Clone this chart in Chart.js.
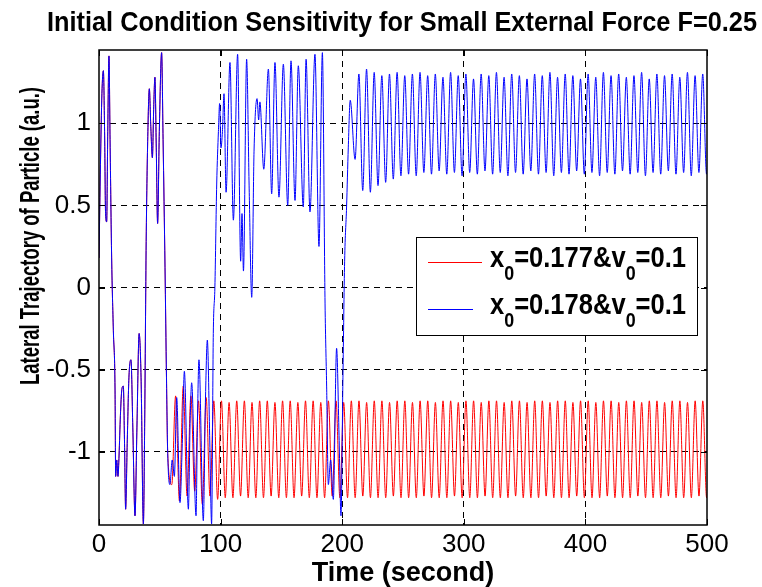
<!DOCTYPE html>
<html><head><meta charset="utf-8">
<script src="https://cdn.jsdelivr.net/npm/chart.js@4.4.0/dist/chart.umd.min.js"></script>
<style>html,body{margin:0;padding:0;background:#fff;}#wrap{width:762px;height:587px;position:relative;}</style>
</head><body><div id="wrap"><canvas id="c" width="762" height="587"></canvas></div>
<script>
const chartTitle = 'Initial Condition Sensitivity for Small External Force F=0.25';
const xAxisTitle = 'Time (second)';
const yAxisTitle = 'Lateral Trajectory of Particle (a.u.)';
const xTicks = [0, 100, 200, 300, 400, 500];
const yTicks = [-1, -0.5, 0, 0.5, 1];
const seriesLabels = ['x₀=0.177&v₀=0.1', 'x₀=0.178&v₀=0.1'];

// shared transient (both initial conditions coincide)
const commonT = [0, 1.2, 2.4, 3.6, 4.6, 5.4, 6.3, 7.2, 8.2, 9.1, 10.4, 11.8, 13.2, 13.7, 14.6, 15.6, 16.5, 17.6, 18.8, 20.0, 21.0, 21.9, 23.2, 24.6, 26.3, 27.8, 29.6, 31.2, 33.0, 34.6, 36.5, 37.6, 38.8, 40.2, 41.4, 42.6, 43.9, 45.0, 46.0, 47.1, 48.2, 49.6, 51.5, 52.7, 54.3, 55.5, 56.5];
const commonX = [0.18, 0.75, 1.18, 1.32, 0.95, 0.45, 0.40, 0.95, 1.41, 0.90, 0.18, -0.26, -0.63, -1.15, -1.05, -1.15, -1.02, -0.78, -0.62, -0.60, -0.95, -1.35, -0.95, -0.55, -0.44, -0.85, -1.39, -0.85, -0.28, -0.55, -1.44, -0.80, 0.28, 0.95, 1.21, 0.98, 0.79, 1.10, 1.28, 0.85, 0.39, 0.95, 1.43, 0.90, 0.12, -0.55, -1.01];

// sampling step of the extrema lists (half of the forcing period)
const halfPeriod = 3.1416;

// x0=0.177: settles on the lower well
const redTailStart = 59.86;
const redTail = [-1.20, -0.66, -1.30, -0.60, -1.27, -0.66, -1.24, -0.69, -1.32, -0.67, -1.27, -0.69, -1.29,
 -0.69, -1.28, -0.70, -1.28, -0.69, -1.27, -0.69, -1.28, -0.70, -1.28,
 -0.69, -1.28, -0.69, -1.27, -0.70, -1.28, -0.69, -1.28, -0.69, -1.28,
 -0.70, -1.27, -0.69, -1.28, -0.69, -1.28, -0.70, -1.28, -0.69, -1.27,
 -0.69, -1.28, -0.70, -1.28, -0.69, -1.28, -0.69, -1.27, -0.70, -1.28,
 -0.69, -1.28, -0.69, -1.28, -0.70, -1.27, -0.69, -1.28, -0.69, -1.28,
 -0.70, -1.28, -0.69, -1.27, -0.69, -1.28, -0.70, -1.28, -0.69, -1.28,
 -0.69, -1.27, -0.70, -1.28, -0.69, -1.28, -0.69, -1.28, -0.70, -1.27,
 -0.69, -1.28, -0.69, -1.28, -0.70, -1.28, -0.69, -1.27, -0.69, -1.28,
 -0.70, -1.28, -0.69, -1.28, -0.69, -1.27, -0.70, -1.28, -0.69, -1.28,
 -0.69, -1.28, -0.70, -1.27, -0.69, -1.28, -0.69, -1.28, -0.70, -1.28,
 -0.69, -1.27, -0.69, -1.28, -0.70, -1.28, -0.69, -1.28, -0.69, -1.27,
 -0.70, -1.28, -0.69, -1.28, -0.69, -1.28, -0.70, -1.27, -0.69, -1.28,
 -0.69, -1.28, -0.70, -1.28, -0.69, -1.27, -0.69, -1.28, -0.70];

// x0=0.178: lower-well wandering, jump to upper well, chaotic, then upper well
const blueMidT = [58.3, 60.2, 62.0, 63.9, 66.6, 68.5, 70.2, 73.5, 75.0, 76.2, 79.8, 81.0, 82.2, 85.8, 87.5, 89.1, 91.0, 92.6, 94.0];
const blueMidX = [-1.20, -1.05, -1.15, -0.67, -1.31, -0.95, -0.51, -1.35, -0.80, -0.58, -1.39, -0.80, -0.44, -1.42, -0.70, -0.32, -0.90, -1.44, -0.28];
const blueChaosT = [95.3, 96.8, 98.2, 99.2, 100.3, 101.5, 102.8, 104.5, 107.7, 110.5, 114.0, 116.5, 117.6, 118.8, 121.4, 123.5, 125.6, 127.5, 130.0, 131.3, 132.3, 135.5, 139.3, 142.0, 144.7, 148.0, 151.6, 155.2, 157.9, 161.2, 163.9, 168.0, 170.3, 173.5, 177.6, 180.9, 183.7, 185.9, 187.2, 188.6, 190.5, 192.7, 195.4, 197.4, 199.0, 200.6, 202.0, 203.6, 205.0, 206.6];
const blueChaosX = [0.00, 0.63, 0.95, 1.12, 0.85, 0.95, 1.18, 0.58, 1.37, 0.41, 1.42, 0.16, 0.45, 0.10, 1.39, 0.60, -0.06, 0.83, 1.15, 1.02, 1.13, 0.72, 1.33, 0.57, 1.37, 0.55, 1.36, 0.50, 1.38, 0.53, 1.35, 0.49, 1.39, 0.46, 1.42, 0.25, 1.43, -0.10, -0.60, -1.20, -1.05, -1.29, -0.37, -0.90, -1.39, -0.55, 0.16, 0.49, 0.85, 1.14];
const blueTailStart = 210.6;
const blueTail = [0.78, 1.30, 0.59, 1.33, 0.58, 1.31, 0.62, 1.29, 0.64, 1.30,
 0.66, 1.31, 0.68, 1.29, 0.69, 1.30, 0.68, 1.31, 0.70, 1.29,
 0.69, 1.30, 0.71, 1.28, 0.69, 1.31, 0.70, 1.29, 0.68, 1.30,
 0.70, 1.27, 0.69, 1.30, 0.71, 1.29, 0.69, 1.31, 0.70, 1.28,
 0.68, 1.30, 0.70, 1.29, 0.69, 1.27, 0.71, 1.30, 0.69, 1.29,
 0.70, 1.31, 0.68, 1.28, 0.70, 1.30, 0.69, 1.29, 0.71, 1.27,
 0.69, 1.30, 0.70, 1.28, 0.68, 1.31, 0.70, 1.29, 0.69, 1.30,
 0.71, 1.28, 0.69, 1.29, 0.70, 1.31, 0.68, 1.27, 0.70, 1.30,
 0.69, 1.29, 0.71, 1.30, 0.69, 1.28, 0.70, 1.31, 0.68, 1.29,
 0.70, 1.30, 0.69, 1.28];

const FONT = "'Liberation Sans', Arial, Helvetica, sans-serif";

const redPts = [], bluePts = [];
commonT.forEach((t, i) => { redPts.push({x: t, y: commonX[i]}); bluePts.push({x: t, y: commonX[i]}); });
redTail.forEach((v, i) => redPts.push({x: redTailStart + i * halfPeriod, y: v}));
blueMidT.forEach((t, i) => bluePts.push({x: t, y: blueMidX[i]}));
blueChaosT.forEach((t, i) => bluePts.push({x: t, y: blueChaosX[i]}));
blueTail.forEach((v, i) => bluePts.push({x: blueTailStart + i * halfPeriod, y: v}));

const frame = {
  id: 'frame',
  afterDatasetsDraw(chart) {
    const {ctx, chartArea: {left, right, top, bottom}, scales: {x, y}} = chart;
    ctx.save();
    ctx.strokeStyle = '#000';
    ctx.lineWidth = 1.5;
    ctx.setLineDash([]);
    ctx.strokeRect(left, top, right - left, bottom - top);
    ctx.lineWidth = 1;
    ctx.beginPath();
    xTicks.forEach(v => {
      const px = Math.round(x.getPixelForValue(v)) + 0.5;
      ctx.moveTo(px, bottom); ctx.lineTo(px, bottom - 6);
      ctx.moveTo(px, top); ctx.lineTo(px, top + 6);
    });
    yTicks.forEach(v => {
      const py = Math.round(y.getPixelForValue(v)) + 0.5;
      ctx.moveTo(left, py); ctx.lineTo(left + 6, py);
      ctx.moveTo(right, py); ctx.lineTo(right - 6, py);
    });
    ctx.stroke();
    ctx.restore();
  }
};

function drawRuns(ctx, str, x, base, size, subSize, drop, sx, measureOnly) {
  const parts = str.split('₀');
  let cx = 0;
  ctx.save();
  ctx.translate(x, base);
  ctx.scale(sx, 1);
  ctx.textAlign = 'left';
  ctx.textBaseline = 'alphabetic';
  ctx.fillStyle = '#000';
  parts.forEach((p, i) => {
    ctx.font = `bold ${size}px ${FONT}`;
    if (!measureOnly) ctx.fillText(p, cx, 0);
    cx += ctx.measureText(p).width;
    if (i < parts.length - 1) {
      ctx.font = `bold ${subSize}px ${FONT}`;
      if (!measureOnly) ctx.fillText('0', cx, drop);
      cx += ctx.measureText('0').width;
    }
  });
  ctx.restore();
  return cx;
}

const legendBox = {
  id: 'legendBox',
  afterDraw(chart) {
    const ctx = chart.ctx;
    const bx = 416, by = 237, bw = 281, bh = 98;
    ctx.save();
    ctx.fillStyle = '#fff';
    ctx.fillRect(bx, by, bw, bh);
    ctx.strokeStyle = '#000';
    ctx.lineWidth = 1;
    ctx.strokeRect(bx + 0.5, by + 0.5, bw, bh);
    const ds = chart.data.datasets;
    const rows = [{ly: 262.5, x2: 482, base: 267}, {ly: 309.5, x2: 473, base: 314}];
    ds.forEach((d, i) => {
      const r = rows[i];
      ctx.strokeStyle = d.borderColor;
      ctx.lineWidth = 1;
      ctx.beginPath(); ctx.moveTo(428, r.ly); ctx.lineTo(r.x2, r.ly); ctx.stroke();
      const w = drawRuns(ctx, d.label, 0, 0, 30, 21, 13, 1, true);
      const sx = 196 / w;
      drawRuns(ctx, d.label, 490, r.base, 30, 21, 13, sx, false);
    });
    ctx.restore();
  }
};

const texts = {
  id: 'texts',
  afterDraw(chart) {
    const ctx = chart.ctx;
    ctx.save();
    ctx.fillStyle = '#000';
    // chart title
    ctx.font = `bold 28px ${FONT}`;
    let w = ctx.measureText(chartTitle).width;
    ctx.save();
    ctx.translate(402, 31);
    ctx.scale(710 / w, 1);
    ctx.textAlign = 'center';
    ctx.textBaseline = 'alphabetic';
    ctx.fillText(chartTitle, 0, 0);
    ctx.restore();
    // y axis title
    ctx.font = `bold 27px ${FONT}`;
    w = ctx.measureText(yAxisTitle).width;
    ctx.translate(39, 236);
    ctx.rotate(-Math.PI / 2);
    ctx.scale(298 / w, 1);
    ctx.textAlign = 'center';
    ctx.textBaseline = 'alphabetic';
    ctx.fillText(yAxisTitle, 0, 0);
    ctx.restore();
  }
};

new Chart(document.getElementById('c'), {
  type: 'line',
  data: {
    datasets: [
      {label: seriesLabels[0], data: redPts, borderColor: '#ff0000', borderWidth: 1, pointRadius: 0, fill: false, cubicInterpolationMode: 'monotone', order: 2},
      {label: seriesLabels[1], data: bluePts, borderColor: '#0000ff', borderWidth: 1, pointRadius: 0, fill: false, cubicInterpolationMode: 'monotone', order: 1}
    ]
  },
  options: {
    responsive: false,
    animation: false,
    devicePixelRatio: 1,
    parsing: false,
    layout: {padding: {left: 0, right: 55, top: 50, bottom: 0}},
    plugins: {
      legend: {display: false},
      tooltip: {enabled: false},
      title: {display: false}
    },
    scales: {
      x: {
        type: 'linear', min: 0, max: 500,
        afterBuildTicks: s => { s.ticks = xTicks.map(v => ({value: v})); },
        afterFit: s => { s.height = 62; },
        ticks: {autoSkip: false, maxRotation: 0, padding: 4, color: '#000', font: {family: FONT, size: 26}, callback: v => String(v)},
        grid: {color: c => (c.tick && (c.tick.value === xTicks[0] || c.tick.value === xTicks[xTicks.length - 1])) ? 'rgba(0,0,0,0)' : '#000', lineWidth: 1, drawTicks: false},
        border: {display: false, dash: [6, 5]},
        title: {display: true, text: xAxisTitle, color: '#000', font: {family: FONT, size: 27, weight: 'bold', lineHeight: 1}, padding: {top: 0, bottom: 0}}
      },
      y: {
        type: 'linear', min: -1.446, max: 1.446,
        afterBuildTicks: s => { s.ticks = yTicks.map(v => ({value: v})); },
        afterFit: s => { s.width = 99; },
        ticks: {autoSkip: false, padding: 8, color: '#000', font: {family: FONT, size: 26}, callback: v => String(v)},
        grid: {color: '#000', lineWidth: 1, drawTicks: false},
        border: {display: false, dash: [6, 5]}
      }
    }
  },
  plugins: [frame, legendBox, texts]
});
</script></body></html>
